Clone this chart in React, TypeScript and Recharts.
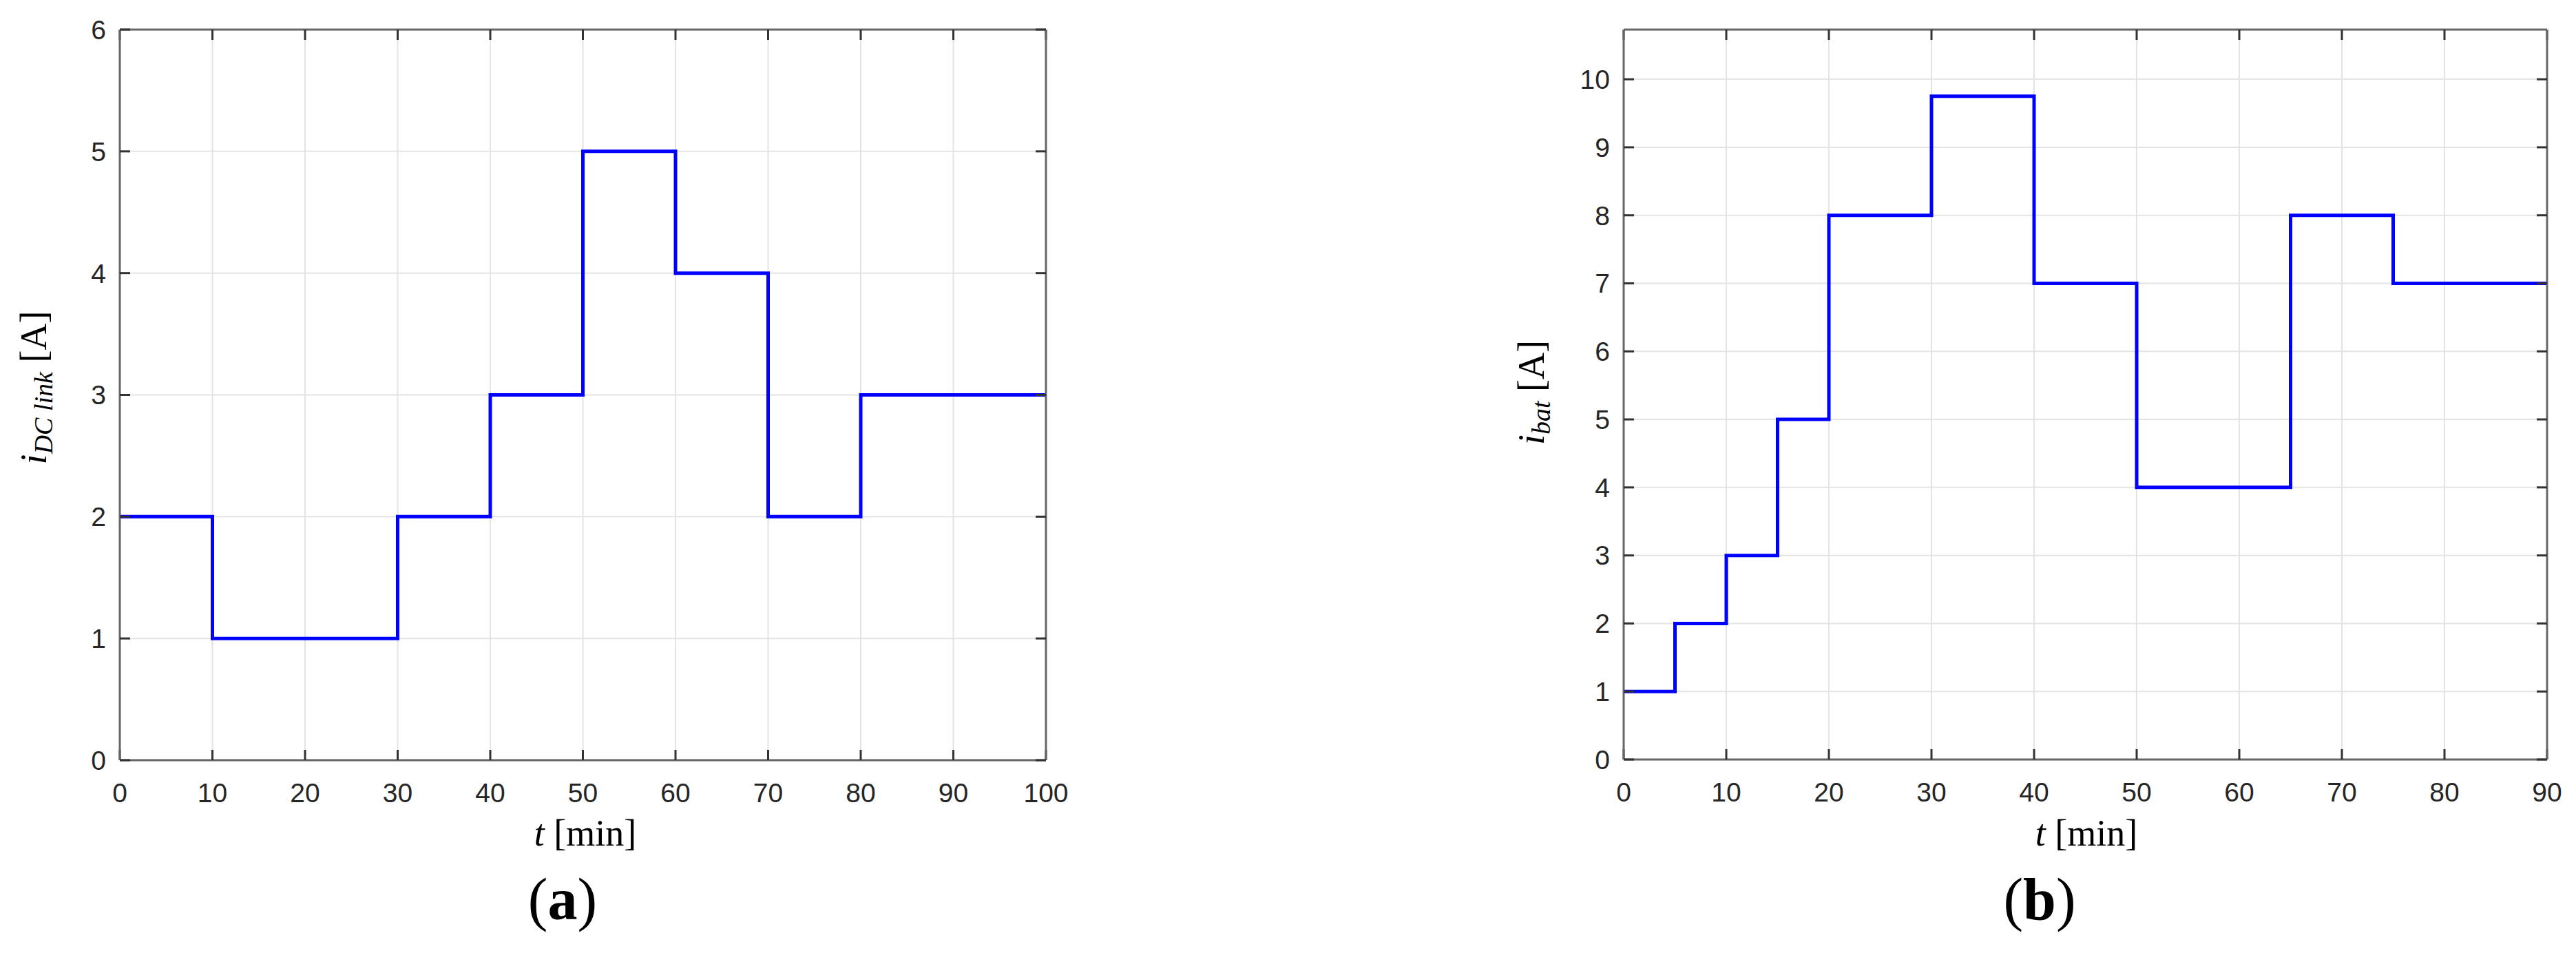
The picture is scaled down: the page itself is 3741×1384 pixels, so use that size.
import React from 'react';
import { LineChart, Line, XAxis, YAxis, CartesianGrid } from 'recharts';

// Panel (a): DC-link current
const timesA = [0, 10, 30, 40, 50, 60, 70, 80, 100];
const valuesA = [2, 1, 2, 3, 5, 4, 2, 3, 3];
const xTicksA = [0, 10, 20, 30, 40, 50, 60, 70, 80, 90, 100];
const yTicksA = [0, 1, 2, 3, 4, 5, 6];

// Panel (b): battery current
const timesB = [0, 5, 10, 15, 20, 30, 40, 50, 65, 75, 90];
const valuesB = [1, 2, 3, 5, 8, 9.75, 7, 4, 8, 7, 7];
const xTicksB = [0, 10, 20, 30, 40, 50, 60, 70, 80, 90];
const yTicksB = [0, 1, 2, 3, 4, 5, 6, 7, 8, 9, 10];

const dataA = timesA.map((t, i) => ({ t, v: valuesA[i] }));
const dataB = timesB.map((t, i) => ({ t, v: valuesB[i] }));

const tickFont = { fontSize: 39, fill: '#262626', fontFamily: 'Liberation Sans, Arial, sans-serif' };
const AXIS = '#666666';
const TICK = '#333333';
const empty = () => '';

type PanelProps = {
  data: { t: number; v: number }[];
  xDomain: [number, number];
  yDomain: [number, number];
  xTicks: number[];
  yTicks: number[];
  width: number;
  height: number;
  margin: { top: number; right: number; bottom: number; left: number };
  yWidth: number;
  xHeight: number;
};

function Panel(p: PanelProps) {
  return (
    <LineChart width={p.width} height={p.height} data={p.data} margin={p.margin}>
      <CartesianGrid xAxisId="b" yAxisId="l" stroke="#e4e4e4" strokeWidth={2} />
      <XAxis
        xAxisId="b"
        dataKey="t"
        type="number"
        domain={p.xDomain}
        ticks={p.xTicks}
        interval={0}
        allowDataOverflow
        height={p.xHeight}
        tickLine={false}
        tickSize={10}
        tickMargin={23}
        axisLine={{ stroke: AXIS, strokeWidth: 3 }}
        tick={tickFont}
      />
      <XAxis
        xAxisId="bm"
        dataKey="t"
        type="number"
        domain={p.xDomain}
        ticks={p.xTicks}
        interval={0}
        allowDataOverflow
        orientation="bottom"
        mirror
        tickSize={15}
        tickFormatter={empty}
        axisLine={false}
        tickLine={{ stroke: TICK, strokeWidth: 3 }}
      />
      <XAxis
        xAxisId="tm"
        dataKey="t"
        type="number"
        domain={p.xDomain}
        ticks={p.xTicks}
        interval={0}
        allowDataOverflow
        orientation="top"
        mirror
        tickSize={15}
        tickFormatter={empty}
        axisLine={{ stroke: AXIS, strokeWidth: 3 }}
        tickLine={{ stroke: TICK, strokeWidth: 3 }}
      />
      <YAxis
        yAxisId="l"
        type="number"
        domain={p.yDomain}
        ticks={p.yTicks}
        interval={0}
        allowDataOverflow
        width={p.yWidth}
        tickLine={false}
        tickSize={10}
        tickMargin={10}
        axisLine={{ stroke: AXIS, strokeWidth: 3 }}
        tick={tickFont}
      />
      <YAxis
        yAxisId="lm"
        type="number"
        domain={p.yDomain}
        ticks={p.yTicks}
        interval={0}
        allowDataOverflow
        orientation="left"
        mirror
        tickSize={15}
        tickFormatter={empty}
        axisLine={false}
        tickLine={{ stroke: TICK, strokeWidth: 3 }}
      />
      <YAxis
        yAxisId="rm"
        type="number"
        domain={p.yDomain}
        ticks={p.yTicks}
        interval={0}
        allowDataOverflow
        orientation="right"
        mirror
        tickSize={15}
        tickFormatter={empty}
        axisLine={{ stroke: AXIS, strokeWidth: 3 }}
        tickLine={{ stroke: TICK, strokeWidth: 3 }}
      />
      <Line
        xAxisId="b"
        yAxisId="l"
        type="stepAfter"
        dataKey="v"
        stroke="#0000ff"
        strokeWidth={5}
        dot={false}
        isAnimationActive={false}
      />
    </LineChart>
  );
}

const serif = 'Liberation Serif, Times New Roman, serif';

function Centered({ x, y, rotate, size, children, bold }: any) {
  return (
    <div
      style={{
        position: 'absolute',
        left: x,
        top: y,
        transform: `translate(-50%, -50%)${rotate ? ' rotate(-90deg)' : ''}`,
        fontFamily: serif,
        fontSize: size,
        lineHeight: 1,
        whiteSpace: 'nowrap',
        color: '#000',
        fontWeight: bold ? 'bold' : 'normal',
      }}
    >
      {children}
    </div>
  );
}

const subStyle: React.CSSProperties = { fontSize: 38, fontStyle: 'italic', verticalAlign: '-0.25em' };

export default function App() {
  return (
    <div style={{ position: 'absolute', left: 0, top: 0, width: 3741, height: 1384, background: '#fff', overflow: 'hidden' }}>
      <div style={{ position: 'absolute', left: 0, top: 0 }}>
        <Panel
          data={dataA}
          xDomain={[0, 100]}
          yDomain={[0, 6]}
          xTicks={xTicksA}
          yTicks={yTicksA}
          width={1560}
          height={1384}
          margin={{ top: 43, right: 41, bottom: 0, left: 0 }}
          yWidth={174}
          xHeight={280}
        />
      </div>
      <div style={{ position: 'absolute', left: 2100, top: 0 }}>
        <Panel
          data={dataB}
          xDomain={[0, 90]}
          yDomain={[0, 10.73]}
          xTicks={xTicksB}
          yTicks={yTicksB}
          width={1641}
          height={1384}
          margin={{ top: 43, right: 42, bottom: 0, left: 0 }}
          yWidth={258}
          xHeight={281}
        />
      </div>

      {/* Axis labels */}
      <Centered x={850} y={1210} size={54}>
        <i>t</i>&nbsp;[min]
      </Centered>
      <Centered x={3030} y={1210} size={54}>
        <i>t</i>&nbsp;[min]
      </Centered>
      <Centered x={52} y={563} size={54} rotate>
        <i>i</i>
        <span style={subStyle}>DC link</span>&nbsp;[A]
      </Centered>
      <Centered x={2227} y={570} size={54} rotate>
        <i>i</i>
        <span style={subStyle}>bat</span>&nbsp;[A]
      </Centered>

      {/* Panel captions */}
      <Centered x={817} y={1306} size={86}>
        (<b>a</b>)
      </Centered>
      <Centered x={2962} y={1306} size={86}>
        (<b>b</b>)
      </Centered>
    </div>
  );
}
